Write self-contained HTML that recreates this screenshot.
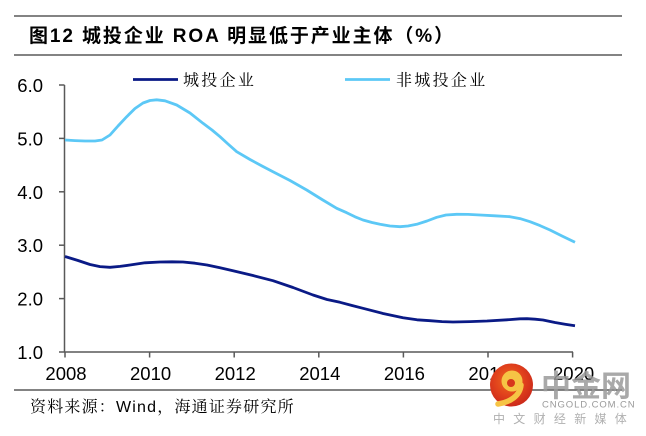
<!DOCTYPE html>
<html>
<head>
<meta charset="utf-8">
<style>
  html,body{margin:0;padding:0;background:#fff;}
  svg{display:block;}
  .sans{font-family:"Liberation Sans","Noto Sans CJK SC",sans-serif;}
  .serif{font-family:"Liberation Sans","Noto Serif CJK SC","Noto Sans CJK SC",sans-serif;}
</style>
</head>
<body>
<svg width="646" height="436" viewBox="0 0 646 436" xmlns="http://www.w3.org/2000/svg">
  <defs>
    <radialGradient id="rg" cx="0.45" cy="0.4" r="0.6">
      <stop offset="0" stop-color="#ee6a1e"/>
      <stop offset="0.6" stop-color="#e0401c"/>
      <stop offset="1" stop-color="#cc2a1a"/>
    </radialGradient>
  </defs>

  <!-- rules -->
  <line x1="14" y1="16" x2="622" y2="16" stroke="#5a5a5a" stroke-width="1.6"/>
  <line x1="14" y1="55" x2="622" y2="55" stroke="#5a5a5a" stroke-width="1.6"/>
  <line x1="14" y1="390" x2="622" y2="390" stroke="#5a5a5a" stroke-width="1.6"/>

  <!-- title -->
  <text x="29" y="42" class="sans" font-size="19" font-weight="bold" letter-spacing="1.9" fill="#000">图12 城投企业 ROA 明显低于产业主体（%）</text>

  <!-- legend -->
  <line x1="133" y1="79.5" x2="178" y2="79.5" stroke="#0a1a86" stroke-width="2.8"/>
  <text x="183" y="85.5" class="serif" font-size="16" letter-spacing="2.3" fill="#000">城投企业</text>
  <line x1="345" y1="79.5" x2="390" y2="79.5" stroke="#5cc8f6" stroke-width="2.8"/>
  <text x="396" y="85.5" class="serif" font-size="16" letter-spacing="2.3" fill="#000">非城投企业</text>

  <!-- axes -->
  <g stroke="#595959" stroke-width="1.5" fill="none">
    <line x1="64.5" y1="85" x2="64.5" y2="352"/>
    <line x1="64.5" y1="352" x2="573" y2="352"/>
    <line x1="59" y1="85" x2="64.5" y2="85"/>
    <line x1="59" y1="138.4" x2="64.5" y2="138.4"/>
    <line x1="59" y1="191.8" x2="64.5" y2="191.8"/>
    <line x1="59" y1="245.2" x2="64.5" y2="245.2"/>
    <line x1="59" y1="298.6" x2="64.5" y2="298.6"/>
    <line x1="59" y1="352" x2="64.5" y2="352"/>
    <line x1="65" y1="352" x2="65" y2="357.5"/>
    <line x1="149.6" y1="352" x2="149.6" y2="357.5"/>
    <line x1="234.2" y1="352" x2="234.2" y2="357.5"/>
    <line x1="318.8" y1="352" x2="318.8" y2="357.5"/>
    <line x1="403.4" y1="352" x2="403.4" y2="357.5"/>
    <line x1="488" y1="352" x2="488" y2="357.5"/>
    <line x1="572.6" y1="352" x2="572.6" y2="357.5"/>
  </g>

  <!-- y labels -->
  <g class="sans" font-size="18.5" fill="#000" text-anchor="end">
    <text x="43" y="92">6.0</text>
    <text x="43" y="145.4">5.0</text>
    <text x="43" y="198.8">4.0</text>
    <text x="43" y="252.2">3.0</text>
    <text x="43" y="305.6">2.0</text>
    <text x="43" y="359">1.0</text>
  </g>

  <!-- x labels -->
  <g class="sans" font-size="18.5" fill="#000" text-anchor="middle">
    <text x="66" y="380">2008</text>
    <text x="150.6" y="380">2010</text>
    <text x="235.2" y="380">2012</text>
    <text x="319.8" y="380">2014</text>
    <text x="404.4" y="380">2016</text>
    <text x="489" y="380">2018</text>
    <text x="573.6" y="380">2020</text>
  </g>

  <!-- series: 非城投企业 -->
  <polyline fill="none" stroke="#5cc8f6" stroke-width="2.8" stroke-linejoin="round" stroke-linecap="butt"
    points="65,140 75,140.6 85,141 95,141 102,140 110,135 118,126 126.7,116.7 135,108.5 143,103 150,100.5 156.7,99.8 165,100.8 176.7,105 190,113 203,123.3 212,130 220,136.7 228,144 236.7,151.7 250,159.5 262,166 273,171.7 290,180.5 306.7,190 322,199.5 336.7,208.3 346.7,212.7 355,216.8 363,220 372,222.5 380,224.3 390,226 400,226.7 408,226 416.7,224.3 427,221 436.7,217.3 446,215 456.7,214.3 468,214.4 480,215 495,215.8 510,216.7 520,218.6 530,221.7 540,225.6 550,230 562,236 575,242.3"/>

  <!-- series: 城投企业 -->
  <polyline fill="none" stroke="#0a1a86" stroke-width="2.8" stroke-linejoin="round" stroke-linecap="butt"
    points="65,256.5 78,260.5 90,264.5 100,266.6 110,267.3 120,266.4 130,265 145,262.8 160,262 172,261.8 183,262 195,263.2 207,265 220,267.8 233,270.7 253,275.5 273,280.7 293,287.5 313,295 327,299.5 340,302.3 352,305.5 363,308.3 383,313.5 403,317.7 417,319.8 430,320.7 442,321.6 453,322 470,321.6 487,321 507,319.8 520,318.8 527,318.7 535,319.2 543,320 555,322.5 565,324.2 575,325.7"/>

  <!-- source -->
  <text x="30" y="412" class="serif" font-size="16" letter-spacing="1.2" fill="#000">资料来源：Wind，海通证券研究所</text>

  <!-- watermark -->
  <g>
    <circle cx="511.5" cy="385" r="21.5" fill="url(#rg)"/>
    <circle cx="512" cy="381" r="10.5" fill="#f6c445"/>
    <circle cx="511" cy="383" r="4" fill="#d8361c"/>
    <path d="M521,385 C520,396 510,402 498,404" fill="none" stroke="#f6c445" stroke-width="5.5" stroke-linecap="round"/>
    <text x="541" y="396.5" class="sans" font-size="30" font-weight="bold" fill="#9a9a9a" fill-opacity="0.85">中金网</text>
    <text x="542" y="407.5" class="sans" font-size="9.5" letter-spacing="0.9" fill="#9a9a9a">CNGOLD.COM.CN</text>
    <text x="493" y="423" class="sans" font-size="12" letter-spacing="8.3" fill="#b0b0b0">中文财经新媒体</text>
  </g>
</svg>
</body>
</html>
